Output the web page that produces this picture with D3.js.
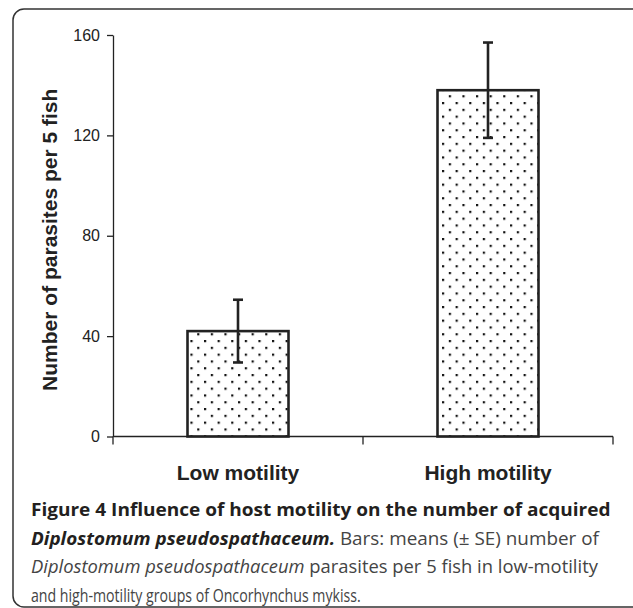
<!DOCTYPE html>
<html>
<head>
<meta charset="utf-8">
<script src="https://cdn.jsdelivr.net/npm/d3@7"></script>
<style>
  html, body { margin: 0; padding: 0; background: #fff; }
  svg { display: block; }
</style>
</head>
<body>
<div id="chart"></div>
<script>
const width = 633;
const height = 608;

// data
const groups = ["Low motility", "High motility"];
const means = [42, 138];
const errors = [12.5, 19];
const yTicks = [0, 40, 80, 120, 160];

const captionLines = [
  [{t: "Figure 4 Influence of host motility on the number of acquired", w: "bold"}],
  [{t: "Diplostomum pseudospathaceum.", w: "bold", s: "italic"}, {t: " Bars: means (\u00B1 SE) number of"}],
  [{t: "Diplostomum pseudospathaceum", s: "italic"}, {t: " parasites per 5 fish in low-motility"}],
  [{t: "and high-motility groups of Oncorhynchus mykiss."}]
];
const captionWidths = [580, 568, 567, 330];

const margin = {left: 113, top: 35};
const plotRight = 613;
const plotBottom = 436.5;

const svg = d3.select("#chart").append("svg")
  .attr("width", width)
  .attr("height", height);

// dotted fill
const pat = svg.append("defs").append("pattern")
  .attr("id", "dots")
  .attr("patternUnits", "userSpaceOnUse")
  .attr("width", 13.6)
  .attr("height", 13.6);
pat.append("rect").attr("x", 0).attr("y", 0).attr("width", 2.2).attr("height", 2.2).attr("fill", "#111");
pat.append("rect").attr("x", 6.8).attr("y", 6.8).attr("width", 2.2).attr("height", 2.2).attr("fill", "#111");

// frame round the figure
svg.append("rect")
  .attr("x", 13).attr("y", 9)
  .attr("width", 640).attr("height", 598)
  .attr("rx", 11).attr("ry", 11)
  .attr("fill", "none")
  .attr("stroke", "#333")
  .attr("stroke-width", 1.5);

const x = d3.scaleBand()
  .domain(groups)
  .range([margin.left, plotRight])
  .paddingInner(0)
  .paddingOuter(0);

const barW = 101;

const y = d3.scaleLinear()
  .domain([0, 160])
  .range([plotBottom, margin.top]);

// y axis
const yAxis = svg.append("g")
  .attr("transform", `translate(${margin.left},0)`)
  .call(d3.axisLeft(y).tickValues(yTicks).tickSize(6).tickPadding(7).tickSizeOuter(0));
yAxis.select(".domain").attr("stroke", "#222").attr("stroke-width", 1.3);
yAxis.selectAll(".tick line").attr("stroke", "#222").attr("stroke-width", 1.3);
yAxis.selectAll(".tick text")
  .attr("font-family", "Liberation Sans, Arial, sans-serif")
  .attr("font-size", 16)
  .attr("fill", "#222");

// x axis, ticks at category boundaries
const xEdges = [margin.left, ...groups.map(g => x(g) + x.bandwidth())];
svg.append("line")
  .attr("x1", margin.left).attr("x2", plotRight)
  .attr("y1", plotBottom).attr("y2", plotBottom)
  .attr("stroke", "#222").attr("stroke-width", 1.3);
svg.selectAll(".xtick").data(xEdges).enter().append("line")
  .attr("class", "xtick")
  .attr("x1", d => d).attr("x2", d => d)
  .attr("y1", plotBottom).attr("y2", plotBottom + 8)
  .attr("stroke", "#222").attr("stroke-width", 1.3);

// bars
const data = groups.map((g, i) => ({g, m: means[i], e: errors[i]}));
svg.selectAll(".bar").data(data).enter().append("rect")
  .attr("class", "bar")
  .attr("x", d => x(d.g) + x.bandwidth() / 2 - barW / 2)
  .attr("y", d => y(d.m))
  .attr("width", barW)
  .attr("height", d => plotBottom - y(d.m))
  .attr("fill", "url(#dots)")
  .attr("stroke", "#222")
  .attr("stroke-width", 2.6);

// error bars
const eb = svg.selectAll(".err").data(data).enter().append("g")
  .attr("stroke", "#222").attr("stroke-width", 2.6);
const cx = d => x(d.g) + x.bandwidth() / 2;
eb.append("line")
  .attr("x1", cx).attr("x2", cx)
  .attr("y1", d => y(d.m + d.e)).attr("y2", d => y(d.m - d.e));
eb.append("line")
  .attr("x1", d => cx(d) - 5).attr("x2", d => cx(d) + 5)
  .attr("y1", d => y(d.m + d.e)).attr("y2", d => y(d.m + d.e));
eb.append("line")
  .attr("x1", d => cx(d) - 5).attr("x2", d => cx(d) + 5)
  .attr("y1", d => y(d.m - d.e)).attr("y2", d => y(d.m - d.e));

// category labels
svg.selectAll(".xlab").data(groups).enter().append("text")
  .attr("x", d => x(d) + x.bandwidth() / 2)
  .attr("y", 480)
  .attr("text-anchor", "middle")
  .attr("font-family", "Liberation Sans, Arial, sans-serif")
  .attr("font-weight", "bold")
  .attr("font-size", 21)
  .attr("fill", "#222")
  .text(d => d);

// y axis title
svg.append("text")
  .attr("transform", `translate(57,${(y(0) + y(160)) / 2 + 4}) rotate(-90)`)
  .attr("text-anchor", "middle")
  .attr("font-family", "Liberation Sans, Arial, sans-serif")
  .attr("font-weight", "bold")
  .attr("font-size", 21)
  .attr("fill", "#222")
  .text("Number of parasites per 5 fish");

// caption
const capTop = 516;
const lineH = 28.5;
captionLines.forEach((parts, i) => {
  const t = svg.append("text")
    .attr("font-family", "Open Sans, sans-serif")
    .attr("font-size", 18.5)
    .attr("fill", "#231f20");
  parts.forEach(p => {
    t.append("tspan")
      .attr("font-weight", p.w || "normal")
      .attr("font-style", p.s || "normal")
      .attr("fill", p.w ? "#231f20" : "#444")
      .text(p.t);
  });
  const w = t.node().getComputedTextLength();
  const k = captionWidths[i] / w;
  t.attr("transform", `translate(31,${capTop + i * lineH}) scale(${k},1)`);
});
</script>
</body>
</html>
